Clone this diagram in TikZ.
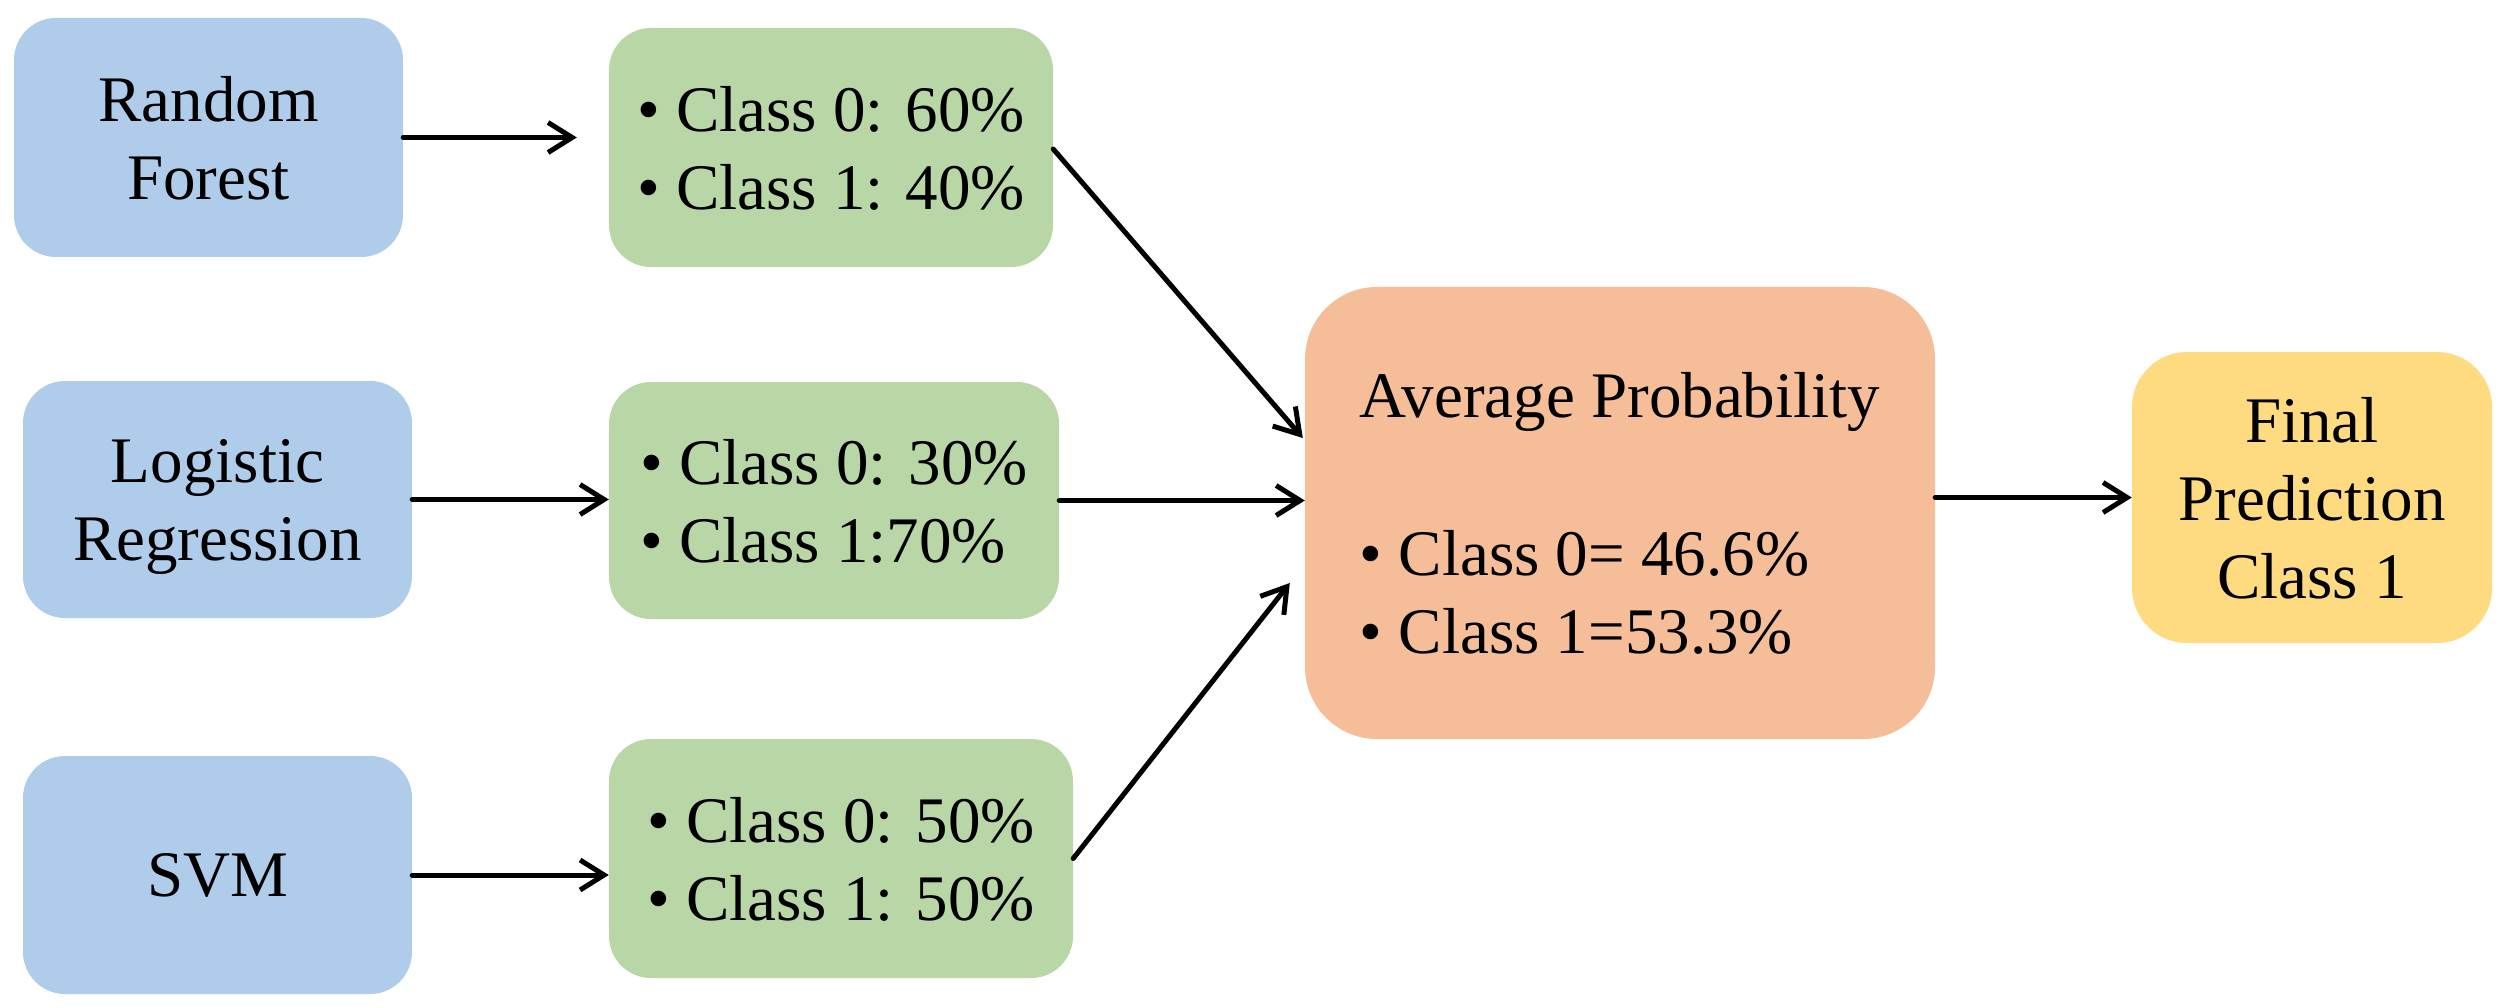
\documentclass[tikz,border=0pt]{standalone}
\usepackage{fontspec}
\setmainfont{Liberation Serif}
\usetikzlibrary{arrows.meta,calc}
\definecolor{boxblue}{HTML}{AFCDEA}
\definecolor{boxgreen}{HTML}{B9D6A6}
\definecolor{boxorange}{HTML}{F5BD98}
\definecolor{boxyellow}{HTML}{FEDB81}
\tikzset{
  base/.style={rectangle, inner sep=0pt, text depth=0pt, font=\fontsize{65}{78}\selectfont},
  model/.style={base, fill=boxblue, rounded corners=42pt, align=center, minimum width=389pt},
  probs/.style={base, fill=boxgreen, rounded corners=42pt, align=left},
  avgbox/.style={base, fill=boxorange, rounded corners=72pt, align=left, minimum width=630pt, minimum height=452pt},
  finalbox/.style={base, fill=boxyellow, rounded corners=55pt, align=center, minimum width=360pt, minimum height=291pt},
  arr/.style={line width=5pt, line cap=round, line join=round, -{Straight Barb[length=24pt,width=30pt]}}
}
\begin{document}
\begin{tikzpicture}[x=1pt,y=-1pt]
\path[use as bounding box] (0,0) rectangle (2510,1008);
% models
\node[model, minimum height=239pt] (rf) at (208.5,137.5) {Random\\Forest};
\node[model, minimum height=237pt] (lr) at (217.5,499.5) {Logistic\\Regression};
\node[model, minimum height=238pt] (svm) at (217.5,875) {SVM};
% probabilities
\node[probs, minimum width=444pt, minimum height=239pt] (p1) at (831,147.5) {• Class 0: 60\%\\• Class 1: 40\%};
\node[probs, minimum width=450pt, minimum height=237pt] (p2) at (834,500.5) {• Class 0: 30\%\\• Class 1:70\%};
\node[probs, minimum width=464pt, minimum height=239pt] (p3) at (841,858.5) {• Class 0: 50\%\\• Class 1: 50\%};
% average
\node[avgbox] (avg) at (1620,513) {Average Probability\\[80pt]• Class 0= 46.6\%\\• Class 1=53.3\%};
% final
\node[finalbox] (fin) at (2312,497.5) {Final\\Prediction\\Class 1};
% connector ends
\coordinate (t1) at ($(avg.west)+(-2,-75)$);
\coordinate (t3) at ($(avg.west)+(-15,70)$);
% arrows
\draw[arr, shorten >=32pt] (rf.east) -- (rf.east -| p1.west);
\draw[arr] (lr.east) -- (lr.east -| p2.west);
\draw[arr] (svm.east) -- (svm.east -| p3.west);
\draw[arr] ($(p1.east)+(0,1.5)$) -- (t1);
\draw[arr] (p2.east) -- (p2.east -| avg.west);
\draw[arr] (p3.east) -- (t3);
\draw[arr] (avg.east |- fin.west) -- (fin.west);
\end{tikzpicture}
\end{document}
